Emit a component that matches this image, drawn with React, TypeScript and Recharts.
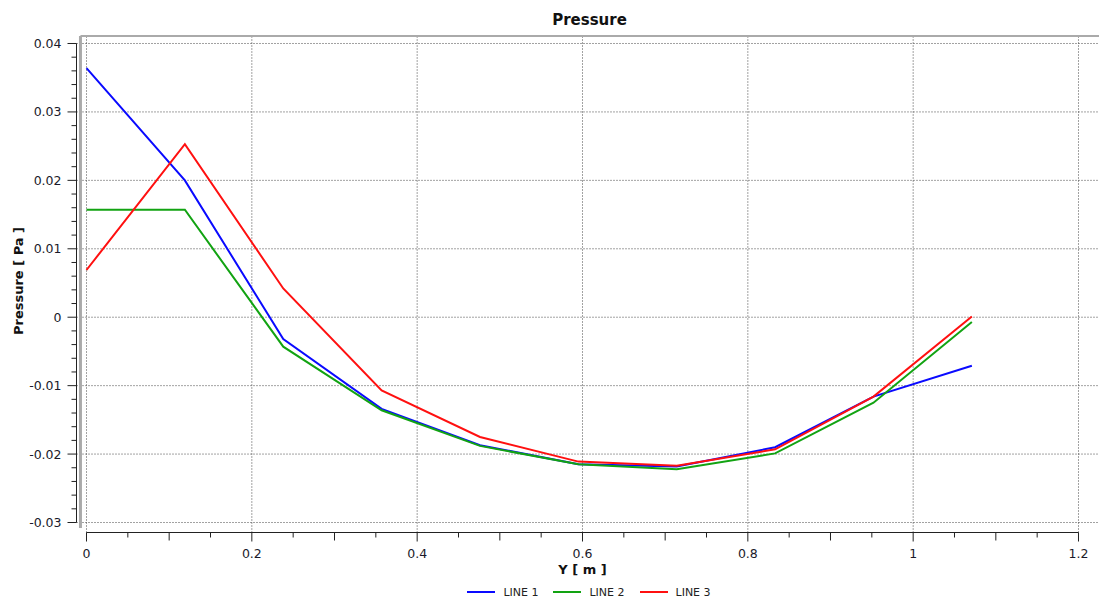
import React from 'react';
import { LineChart, Line, XAxis, YAxis, ReferenceLine, Legend } from 'recharts';

// ---- data ----
const positions = [0, 0.119, 0.238, 0.357, 0.476, 0.595, 0.714, 0.833, 0.952, 1.071];
const line1 = [0.0364, 0.02, -0.0032, -0.0134, -0.0187, -0.0215, -0.0218, -0.019, -0.0116, -0.0071];
const line2 = [0.0157, 0.0157, -0.0043, -0.0136, -0.0188, -0.0215, -0.0222, -0.0199, -0.0125, -0.0007];
const line3 = [0.0069, 0.0253, 0.0042, -0.0107, -0.0175, -0.0211, -0.0217, -0.0193, -0.0116, 0.0001];
const seriesNames = ['LINE 1', 'LINE 2', 'LINE 3'];
const seriesColors = ['#0a0aff', '#12a312', '#ff1010'];

const xMajorTicks = [0, 0.2, 0.4, 0.6, 0.8, 1, 1.2];
const xTickLabels = ['0', '0.2', '0.4', '0.6', '0.8', '1', '1.2'];
const yMajorTicks = [-0.03, -0.02, -0.01, 0, 0.01, 0.02, 0.03, 0.04];
const yTickLabels = ['-0.03', '-0.02', '-0.01', '0', '0.01', '0.02', '0.03', '0.04'];

const xDomain: [number, number] = [-0.0121, 1.2248];
const yDomain: [number, number] = [-0.031461, 0.041096];
const frameX = -0.0073;
const frameBottom = -0.0308;

const xAllTicks = xMajorTicks.flatMap((t, i) =>
  i < xMajorTicks.length - 1 ? [t, t + 0.05, t + 0.1, t + 0.15] : [t]
);
const yAllTicks = yMajorTicks.flatMap((t, i) =>
  i < yMajorTicks.length - 1 ? [t, t + 0.002, t + 0.004, t + 0.006, t + 0.008] : [t]
);

const data = positions.map((p, i) => ({ y: p, l1: line1[i], l2: line2[i], l3: line3[i] }));

const FONT = '"DejaVu Sans", Verdana, sans-serif';

const findIdx = (arr: number[], v: number) => arr.findIndex((t) => Math.abs(t - v) < 1e-9);

const XTick = (props: any) => {
  const { x, y, payload } = props;
  const v = payload.value;
  const mi = findIdx(xMajorTicks, v);
  const isMid = Math.abs(Math.round(v * 10) - v * 10) < 1e-6;
  const len = mi >= 0 ? 9 : isMid ? 8 : 5;
  return (
    <g>
      <line x1={x} x2={x} y1={y} y2={y + len} stroke="#222" strokeWidth={1} />
      {mi >= 0 && (
        <text x={x} y={y + 25} textAnchor="middle" fontFamily={FONT} fontSize={12.5} fill="#1a1a2a">
          {xTickLabels[mi]}
        </text>
      )}
    </g>
  );
};

const YTick = (props: any) => {
  const { x, y, payload } = props;
  const v = payload.value;
  const mi = findIdx(yMajorTicks, v);
  const len = mi >= 0 ? 9 : 5;
  return (
    <g>
      <line x1={x - len} x2={x} y1={y} y2={y} stroke="#222" strokeWidth={1} />
      {mi >= 0 && (
        <text x={x - 15} y={y} dy="0.36em" textAnchor="end" fontFamily={FONT} fontSize={12.5} fill="#1a1a2a">
          {yTickLabels[mi]}
        </text>
      )}
    </g>
  );
};

const renderLegend = () => (
  <div
    style={{
      display: 'flex',
      justifyContent: 'center',
      alignItems: 'center',
      fontFamily: FONT,
      fontSize: 11,
      color: '#222',
      height: 18,
    }}
  >
    {seriesNames.map((n, i) => (
      <div key={n} style={{ display: 'flex', alignItems: 'center', marginLeft: i === 0 ? 0 : 15 }}>
        <div style={{ width: 28, height: 2, background: seriesColors[i], marginRight: 8 }} />
        <span>{n}</span>
      </div>
    ))}
  </div>
);

export default function App() {
  return (
    <div style={{ position: 'absolute', left: 0, top: 0, width: 1099, height: 605, background: '#fff', fontFamily: FONT }}>
      <LineChart width={1099} height={605} data={data} margin={{ top: 36, right: 0, bottom: 0, left: 0 }}>
        <XAxis
          dataKey="y"
          type="number"
          domain={xDomain}
          allowDataOverflow
          ticks={xAllTicks}
          interval={0}
          tick={<XTick />}
          tickLine={false}
          axisLine={false}
          tickSize={0}
          tickMargin={0}
          height={72.5}
        />
        <YAxis
          type="number"
          domain={yDomain}
          allowDataOverflow
          ticks={yAllTicks}
          interval={0}
          tick={<YTick />}
          tickLine={false}
          axisLine={false}
          tickSize={0}
          tickMargin={0}
          width={76.5}
        />
        {xMajorTicks.map((t) => (
          <ReferenceLine key={'gx' + t} x={t} stroke="#444" strokeDasharray="1 2" strokeWidth={1} />
        ))}
        {yMajorTicks.map((t) => (
          <ReferenceLine key={'gy' + t} y={t} stroke="#444" strokeDasharray="1 2" strokeWidth={1} />
        ))}
        <ReferenceLine
          segment={[{ x: frameX, y: yDomain[1] }, { x: frameX, y: frameBottom }]}
          stroke="#aaaaaa"
          strokeWidth={3}
        />
        <ReferenceLine
          segment={[{ x: frameX, y: yDomain[1] }, { x: xDomain[1], y: yDomain[1] }]}
          stroke="#aaaaaa"
          strokeWidth={2}
        />
        <ReferenceLine
          segment={[{ x: xDomain[0], y: yMajorTicks[yMajorTicks.length - 1] }, { x: xDomain[0], y: yMajorTicks[0] }]}
          stroke="#222"
          strokeWidth={1}
        />
        <ReferenceLine
          segment={[{ x: xMajorTicks[0], y: yDomain[0] }, { x: xMajorTicks[xMajorTicks.length - 1], y: yDomain[0] }]}
          stroke="#222"
          strokeWidth={1}
        />
        <Line type="linear" dataKey="l1" name={seriesNames[0]} stroke={seriesColors[0]} strokeWidth={2} dot={false} isAnimationActive={false} />
        <Line type="linear" dataKey="l2" name={seriesNames[1]} stroke={seriesColors[1]} strokeWidth={2} dot={false} isAnimationActive={false} />
        <Line type="linear" dataKey="l3" name={seriesNames[2]} stroke={seriesColors[2]} strokeWidth={2} dot={false} isAnimationActive={false} />
        <Legend
          layout="horizontal"
          verticalAlign="middle"
          align="center"
          wrapperStyle={{ top: 583, left: 79, width: 1020 }}
          content={renderLegend}
        />
        <text x={589.5} y={25} textAnchor="middle" fontFamily={FONT} fontSize={15} fontWeight="bold" fill="#111">
          Pressure
        </text>
        <text x={582.5} y={574} textAnchor="middle" fontFamily={FONT} fontSize={13} fontWeight="bold" fill="#111">
          Y [ m ]
        </text>
        <text
          x={23}
          y={281}
          textAnchor="middle"
          transform="rotate(-90 23 281)"
          fontFamily={FONT}
          fontSize={13}
          fontWeight="bold"
          fill="#111"
        >
          Pressure [ Pa ]
        </text>
      </LineChart>
    </div>
  );
}
